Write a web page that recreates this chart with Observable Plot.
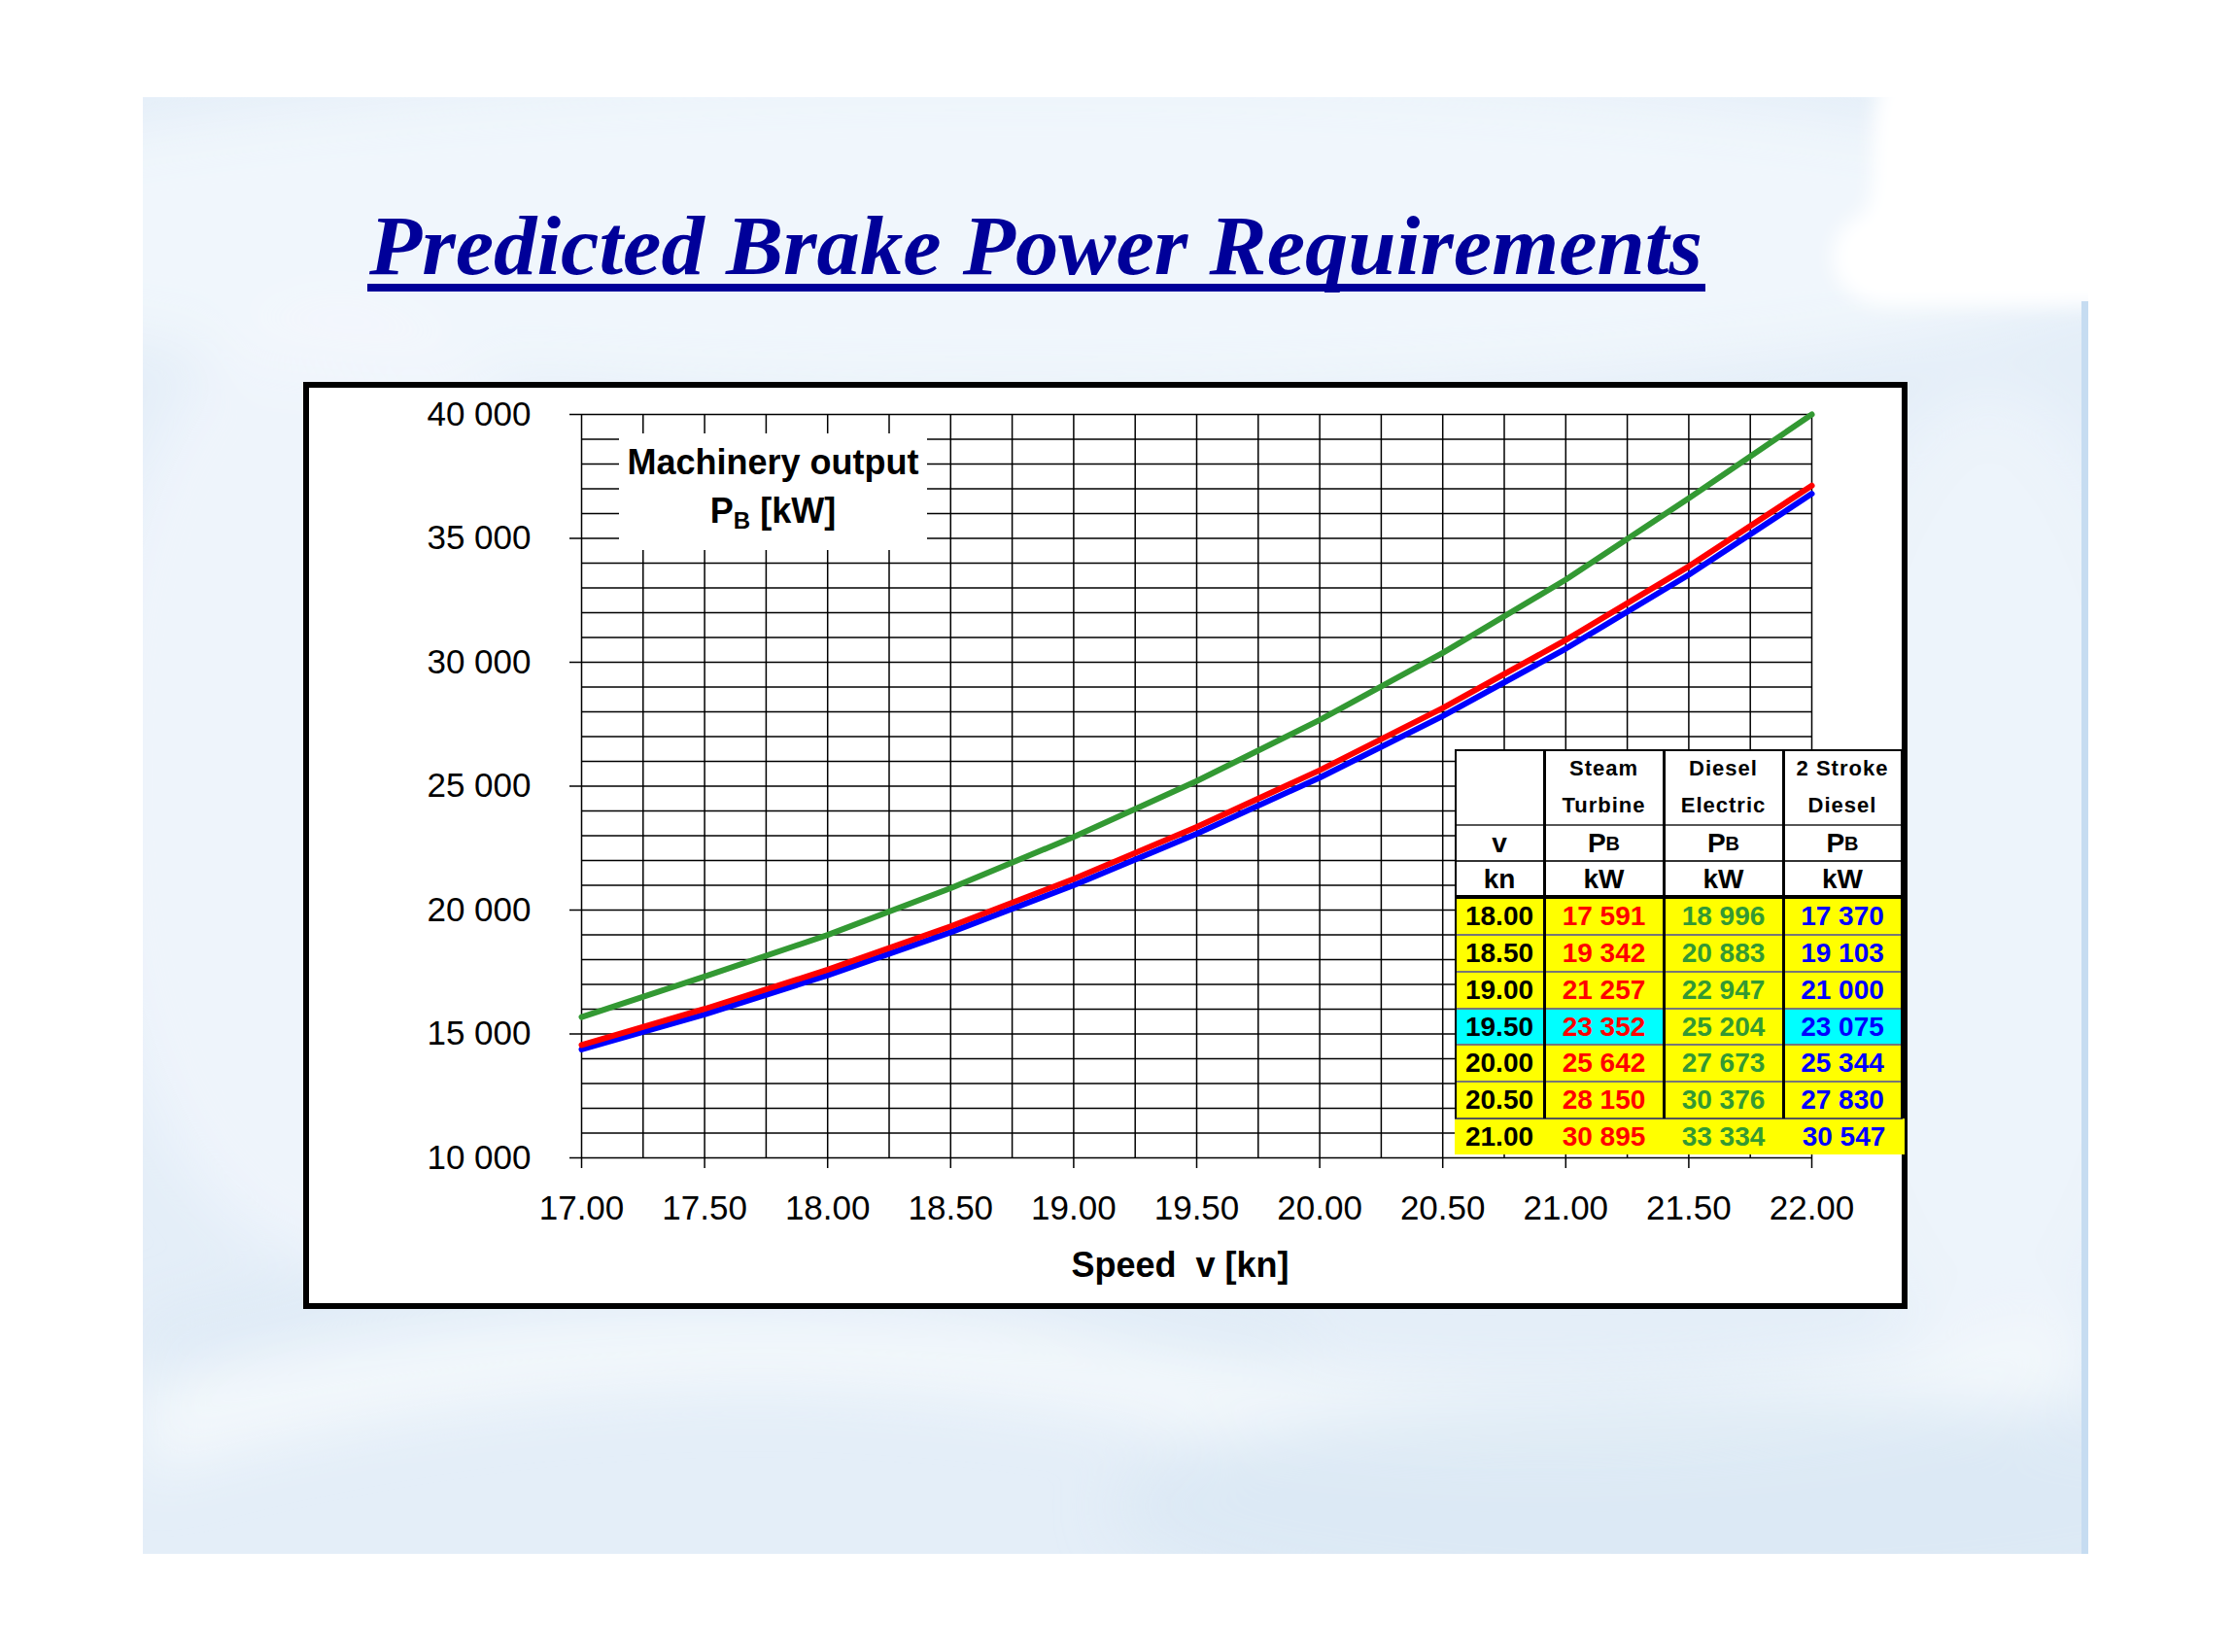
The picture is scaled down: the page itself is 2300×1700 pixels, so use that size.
<!DOCTYPE html>
<html>
<head>
<meta charset="utf-8">
<script src="https://cdn.jsdelivr.net/npm/d3@7"></script>
<script src="https://cdn.jsdelivr.net/npm/@observablehq/plot@0.6"></script>
<style>
  html, body { margin: 0; padding: 0; background: #ffffff; }
  body { width: 2300px; height: 1700px; position: relative; overflow: hidden; font-family: "Liberation Sans", Arial, sans-serif; }
  #panel { position: absolute; left: 147px; top: 100px; width: 2002px; height: 1499px; overflow: hidden; }
  #title { position: absolute; left: 0; top: 0; }
  #frame { position: absolute; left: 312px; top: 393px; width: 1651px; height: 954px; box-sizing: border-box; border: 6px solid #000; background: #fff; }
  #chart { position: absolute; left: 0; top: 0; }
  #chart svg text { white-space: pre; }
  #ylab { position: absolute; left: 637px; top: 446px; width: 317px; height: 120px; background: #fff; text-align: center; font-weight: bold; font-size: 36px; line-height: 50px; padding-top: 5px; box-sizing: border-box; color: #000; }
  #ylab sub { font-size: 24px; vertical-align: -6px; line-height: 0; }
  #table { position: absolute; left: 1497px; top: 771px; width: 463px; height: 417px; }
  .cell { position: absolute; box-sizing: border-box; display: flex; align-items: center; justify-content: center; font-weight: bold; text-align: center; }
  .hdr { font-size: 22px; letter-spacing: 1px; line-height: 38px; flex-direction: column; }
  .unit { font-size: 28px; }
  .unit sub { font-size: 20px; vertical-align: -7px; line-height: 0; }
  .val { font-size: 28px; }
  .ln { position: absolute; }
</style>
</head>
<body>
<div id="panel"></div>
<svg id="title" width="2300" height="340"></svg>
<div id="frame"><div id="chart"></div></div>
<div id="ylab">Machinery output<br>P<sub>B</sub> [kW]</div>
<div id="table"></div>
<script>
// ---------------- data ----------------
const speeds          = [17.00, 17.50, 18.00, 18.50, 19.00, 19.50, 20.00, 20.50, 21.00, 21.50, 22.00];
const steamTurbine    = [14550, 16010, 17591, 19342, 21257, 23352, 25642, 28150, 30895, 33870, 37130];
const dieselElectric  = [15680, 17320, 18996, 20883, 22947, 25204, 27673, 30376, 33334, 36620, 40000];
const twoStrokeDiesel = [14380, 15790, 17370, 19103, 21000, 23075, 25344, 27830, 30547, 33530, 36800];

const seriesNames  = ["Steam Turbine", "Diesel Electric", "2 Stroke Diesel"];
const seriesColors = ["#ff0000", "#339933", "#0000ff"];

const tableSpeeds = [18.00, 18.50, 19.00, 19.50, 20.00, 20.50, 21.00];
const highlightSpeed = 19.50;

const xTicks = [17.00, 17.50, 18.00, 18.50, 19.00, 19.50, 20.00, 20.50, 21.00, 21.50, 22.00];
const xGrid  = [17.00, 17.25, 17.50, 17.75, 18.00, 18.25, 18.50, 18.75, 19.00, 19.25, 19.50,
                19.75, 20.00, 20.25, 20.50, 20.75, 21.00, 21.25, 21.50, 21.75, 22.00];
const yTicks = [10000, 15000, 20000, 25000, 30000, 35000, 40000];
const yGrid  = [10000, 11000, 12000, 13000, 14000, 15000, 16000, 17000, 18000, 19000, 20000,
                21000, 22000, 23000, 24000, 25000, 26000, 27000, 28000, 29000, 30000,
                31000, 32000, 33000, 34000, 35000, 36000, 37000, 38000, 39000, 40000];

const titleText = "Predicted Brake Power Requirements";
const xLabel = "Speed  v [kn]";

// ---------------- formats ----------------
const loc = d3.formatLocale({decimal: ".", thousands: " ", grouping: [3], currency: ["", ""]});
const fmtThousands = loc.format(",d");
const fmtSpeed = d3.format(".2f");

// ---------------- background panel ----------------
(function () {
  const W = 2002, H = 1499;
  const svg = d3.select("#panel").append("svg").attr("width", W).attr("height", H);
  const defs = svg.append("defs");
  defs.append("filter").attr("id", "blur").append("feGaussianBlur").attr("stdDeviation", 30);
  defs.append("filter").attr("id", "blur2").append("feGaussianBlur").attr("stdDeviation", 10);
  svg.append("rect").attr("width", W).attr("height", H).attr("fill", "#e4eef8");
  const g = svg.append("g").attr("filter", "url(#blur)");
  g.append("ellipse").attr("cx", 900).attr("cy", 140).attr("rx", 1200).attr("ry", 170).attr("fill", "#f3f8fc").attr("opacity", 0.8);
  g.append("ellipse").attr("cx", 200).attr("cy", 700).attr("rx", 260).attr("ry", 500).attr("fill", "#f5f9fd").attr("opacity", 0.6);
  g.append("ellipse").attr("cx", 1900).attr("cy", 800).attr("rx", 200).attr("ry", 500).attr("fill", "#f5f9fd").attr("opacity", 0.5);
  g.append("path").attr("d", "M0,1330 C300,1230 650,1210 1000,1280 C1300,1340 1700,1330 2002,1250 L2002,1330 C1700,1420 1300,1420 1000,1360 C650,1300 300,1330 0,1420 Z").attr("fill", "#f6fafd").attr("opacity", 0.8);
  g.append("path").attr("d", "M0,1260 C400,1160 800,1180 1200,1260 L1200,1300 C800,1230 400,1230 0,1320 Z").attr("fill", "#dbe8f5").attr("opacity", 0.7);
  g.append("ellipse").attr("cx", 1600).attr("cy", 1450).attr("rx", 600).attr("ry", 120).attr("fill", "#d9e7f4").attr("opacity", 0.7);
  // white blob top right
  svg.append("path").attr("filter", "url(#blur2)")
    .attr("d", "M1790,-20 L2040,-20 L2040,215 L1800,215 C1730,215 1720,140 1770,120 C1790,100 1770,40 1790,-20 Z")
    .attr("fill", "#ffffff");
  svg.append("rect").attr("x", 1995).attr("y", 210).attr("width", 7).attr("height", H - 210).attr("fill", "#c6dcf1");
})();

// ---------------- title ----------------
(function () {
  const t = d3.select("#title");
  t.append("text")
    .attr("x", 380).attr("y", 282)
    .attr("textLength", 1372).attr("lengthAdjust", "spacingAndGlyphs")
    .attr("font-family", "'Liberation Serif', 'Times New Roman', serif")
    .attr("font-weight", "bold").attr("font-style", "italic")
    .attr("font-size", 86).attr("fill", "#000099")
    .text(titleText);
  t.append("rect").attr("x", 378).attr("y", 292).attr("width", 1377).attr("height", 8).attr("fill", "#000099");
})();

// ---------------- chart ----------------
const rows = [];
speeds.forEach((v, i) => {
  rows.push({v, p: steamTurbine[i], s: seriesNames[0]});
  rows.push({v, p: dieselElectric[i], s: seriesNames[1]});
  rows.push({v, p: twoStrokeDiesel[i], s: seriesNames[2]});
});
const bySeries = name => rows.filter(d => d.s === name);

const chart = Plot.plot({
  width: 1639,
  height: 942,
  marginLeft: 280,
  marginRight: 93,
  marginTop: 27,
  marginBottom: 150,
  style: {fontFamily: "'Liberation Sans', Arial, sans-serif", fontSize: "35px", background: "transparent", color: "#000", overflow: "visible"},
  x: {domain: [17, 22]},
  y: {domain: [10000, 40000]},
  color: {domain: seriesNames, range: seriesColors},
  marks: [
    Plot.gridX(xGrid, {stroke: "#000", strokeOpacity: 1, strokeWidth: 1.5}),
    Plot.gridY(yGrid, {stroke: "#000", strokeOpacity: 1, strokeWidth: 1.5}),
    Plot.axisX(xTicks, {anchor: "bottom", tickSize: 11, tickPadding: 28, tickFormat: fmtSpeed, label: null, fontSize: 35, strokeWidth: 1.5}),
    Plot.axisY(yTicks, {anchor: "left", tickSize: 12, tickPadding: 40, tickFormat: fmtThousands, label: null, fontSize: 35, strokeWidth: 1.5}),
    Plot.line(bySeries(seriesNames[1]), {x: "v", y: "p", stroke: "s", strokeWidth: 6, strokeLinejoin: "round"}),
    Plot.line(bySeries(seriesNames[2]), {x: "v", y: "p", stroke: "s", strokeWidth: 6, strokeLinejoin: "round"}),
    Plot.line(bySeries(seriesNames[0]), {x: "v", y: "p", stroke: "s", strokeWidth: 6, strokeLinejoin: "round"}),
    Plot.text([xLabel], {frameAnchor: "bottom", dy: 122, dx: -17, fontSize: 36, fontWeight: "bold", fill: "#000"})
  ]
});
document.getElementById("chart").appendChild(chart);

// ---------------- data table ----------------
(function () {
  const colEdges = [0, 92, 215, 338, 460];
  const rowEdges = [0, 78, 115, 152, 191, 229, 267, 304, 342, 380, 417];
  const tbl = d3.select("#table");
  const YEL = "#ffff00", CYAN = "#00ffff";

  function cell(r, c, html, cls, bg, color, extraW) {
    tbl.append("div").attr("class", "cell " + cls)
      .style("left", colEdges[c] + "px").style("top", rowEdges[r] + "px")
      .style("width", (colEdges[c + 1] - colEdges[c] + (extraW || 0)) + "px")
      .style("height", (rowEdges[r + 1] - rowEdges[r]) + "px")
      .style("background", bg).style("color", color)
      .html(html);
  }
  // headers
  cell(0, 0, "", "hdr", "#fff", "#000");
  const hdr = [["Steam", "Turbine"], ["Diesel", "Electric"], ["2 Stroke", "Diesel"]];
  hdr.forEach((h, i) => cell(0, i + 1, "<div>" + h[0] + "</div><div>" + h[1] + "</div>", "hdr", "#fff", "#000"));
  cell(1, 0, "v", "unit", "#fff", "#000");
  for (let i = 1; i <= 3; i++) cell(1, i, "P<sub>B</sub>", "unit", "#fff", "#000");
  cell(2, 0, "kn", "unit", "#fff", "#000");
  for (let i = 1; i <= 3; i++) cell(2, i, "kW", "unit", "#fff", "#000");
  // data rows
  tableSpeeds.forEach((v, k) => {
    const i = speeds.indexOf(v);
    const r = 3 + k;
    const hl = v === highlightSpeed;
    const last = k === tableSpeeds.length - 1;
    const bg = hl ? CYAN : YEL;
    cell(r, 0, fmtSpeed(v), "val", bg, "#000");
    cell(r, 1, fmtThousands(steamTurbine[i]), "val", bg, seriesColors[0]);
    cell(r, 2, fmtThousands(dieselElectric[i]), "val", YEL, seriesColors[1]);
    cell(r, 3, fmtThousands(twoStrokeDiesel[i]), "val", bg, seriesColors[2], last ? 3 : 0);
  });
  // lines
  function hline(y, w, color) {
    tbl.append("div").attr("class", "ln").style("left", "0px").style("top", (y - w / 2) + "px")
      .style("width", "461px").style("height", w + "px").style("background", color);
  }
  function vline(x, y0, y1, w, color) {
    tbl.append("div").attr("class", "ln").style("left", (x - w / 2) + "px").style("top", y0 + "px")
      .style("width", w + "px").style("height", (y1 - y0) + "px").style("background", color);
  }
  hline(1, 2, "#000");
  hline(78, 2, "#555");
  hline(115, 2, "#333");
  hline(152, 4, "#000");
  [191, 229, 267, 304, 342].forEach(y => hline(y, 2, "#777"));
  hline(380, 2, "#555");
  vline(1, 0, 380, 2, "#000");
  vline(92, 0, 380, 3, "#000");
  vline(215, 0, 380, 3, "#000");
  vline(338, 0, 380, 3, "#000");
  vline(460, 0, 380, 3, "#000");
})();
</script>
</body>
</html>
